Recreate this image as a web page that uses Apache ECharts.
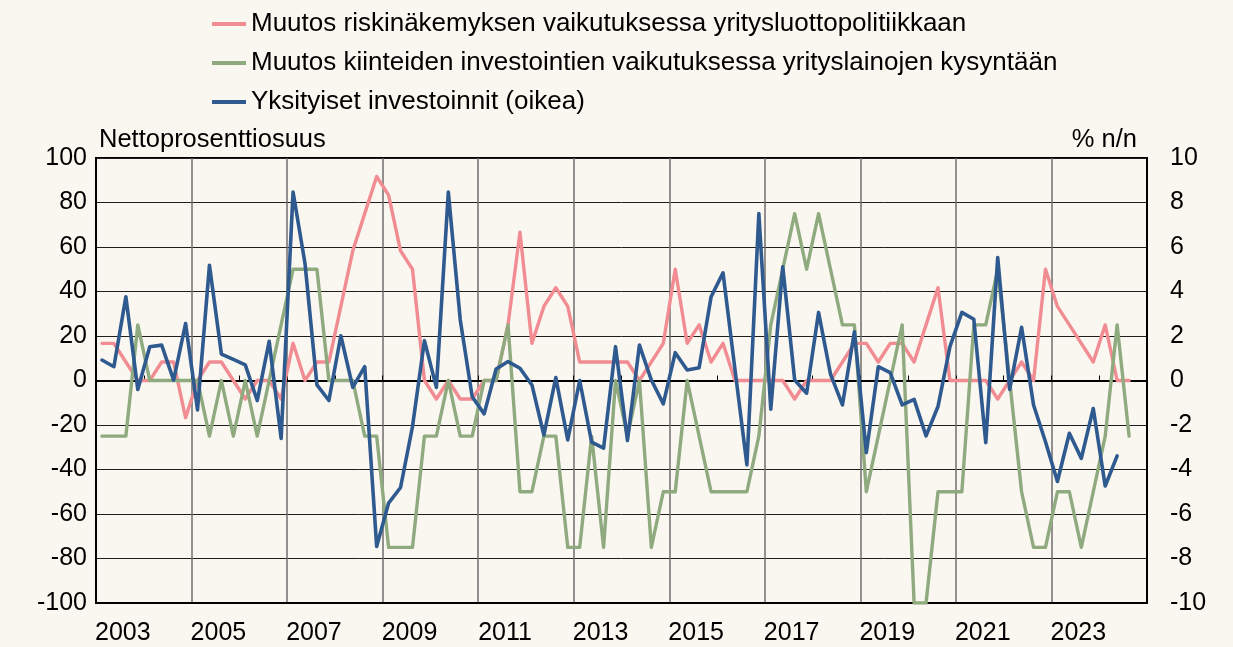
<!DOCTYPE html>
<html>
<head>
<meta charset="utf-8">
<script src="https://cdn.jsdelivr.net/npm/echarts@6/dist/echarts.min.js"></script>
<style>
  html, body { margin: 0; padding: 0; background: #faf6f0; }
  #chart { width: 1233px; height: 647px; }
</style>
</head>
<body>
<div id="chart"></div>
<script>
// vuodet ja neljännekset (2003Q1 - 2024Q4)
const years = [2003, 2004, 2005, 2006, 2007, 2008, 2009, 2010, 2011, 2012, 2013,
  2014, 2015, 2016, 2017, 2018, 2019, 2020, 2021, 2022, 2023, 2024];
const quarters = ['Q1', 'Q2', 'Q3', 'Q4'];
const categories = [];
years.forEach(y => quarters.forEach(q => categories.push(y + q)));

const seriesNames = [
  'Muutos riskinäkemyksen vaikutuksessa yritysluottopolitiikkaan',
  'Muutos kiinteiden investointien vaikutuksessa yrityslainojen kysyntään',
  'Yksityiset investoinnit (oikea)'
];

// nettoprosenttiosuus, vasen asteikko
const riskView = [
  16.7, 16.7, 8.3, 0, 0, 8.3, 8.3, -16.7, 0, 8.3, 8.3, 0, -8.3, 0, 0, -8.3,
  16.7, 0, 8.3, 8.3, 33.3, 58.3, 75, 91.7, 83.3, 58.3, 50, 0, -8.3, 0, -8.3, -8.3,
  0, 0, 25, 66.7, 16.7, 33.3, 41.7, 33.3, 8.3, 8.3, 8.3, 8.3, 8.3, 0, 8.3, 16.7,
  50, 16.7, 25, 8.3, 16.7, 0, 0, 0, 0, 0, -8.3, 0, 0, 0, 8.3, 16.7,
  16.7, 8.3, 16.7, 16.7, 8.3, 25, 41.7, 0, 0, 0, 0, -8.3, 0, 8.3, 0, 50,
  33.3, 25, 16.7, 8.3, 25, 0, 0
];
const fixedInvestment = [
  -25, -25, -25, 25, 0, 0, 0, 0, 0, -25, 0, -25, 0, -25, 0, 25,
  50, 50, 50, 0, 0, 0, -25, -25, -75, -75, -75, -25, -25, 0, -25, -25,
  0, 0, 25, -50, -50, -25, -25, -75, -75, -25, -75, 0, -25, 0, -75, -50,
  -50, 0, -25, -50, -50, -50, -50, -25, 25, 50, 75, 50, 75, 50, 25, 25,
  -50, -25, 0, 25, -100, -100, -50, -50, -50, 25, 25, 50, 0, -50, -75, -75,
  -50, -50, -75, -50, -25, 25, -25
];
// % n/n, oikea asteikko
const privateInvestment = [
  0.92, 0.62, 3.76, -0.40, 1.52, 1.59, 0.02, 2.56, -1.32, 5.18, 1.19, 0.95, 0.70, -0.90, 1.76, -2.60,
  8.47, 5.26, -0.20, -0.90, 2.01, -0.31, 0.62, -7.46, -5.51, -4.81, -2.07, 1.79, -0.31, 8.47, 2.72, -0.73,
  -1.50, 0.52, 0.85, 0.55, -0.20, -2.45, 0.13, -2.67, 0.00, -2.77, -3.04, 1.52, -2.70, 1.59, 0.02, -1.05,
  1.25, 0.47, 0.57, 3.76, 4.84, 0.50, -3.79, 7.50, -1.29, 5.11, 0.02, -0.57, 3.06, 0.29, -1.10, 2.19,
  -3.24, 0.62, 0.35, -1.10, -0.85, -2.49, -1.17, 1.52, 3.06, 2.75, -2.79, 5.53, -0.40, 2.39, -1.10, -2.75,
  -4.54, -2.37, -3.50, -1.26, -4.74, -3.39
];

const font = '"Liberation Sans", Arial, sans-serif';
const colors = ['#f08c92', '#8eaa7e', '#2f5a8f'];

const chart = echarts.init(document.getElementById('chart'));

const lineSeries = (name, data, yIndex, color, width) => ({
  name: name,
  type: 'line',
  data: data,
  xAxisIndex: 0,
  yAxisIndex: yIndex,
  symbol: 'none',
  animation: false,
  lineStyle: { color: color, width: width, cap: 'round', join: 'round' },
  itemStyle: { color: color }
});

chart.setOption({
  backgroundColor: '#faf6f0',
  textStyle: { fontFamily: font },
  color: colors,
  animation: false,
  legend: {
    orient: 'vertical',
    left: 207,
    top: 6,
    icon: 'rect',
    itemWidth: 34,
    itemHeight: 4,
    itemGap: 13,
    textStyle: { fontSize: 26, color: '#000', fontFamily: font },
    data: seriesNames
  },
  grid: {
    left: 96, right: 86, top: 158, bottom: 44,
    show: true, borderColor: '#000', borderWidth: 2, backgroundColor: 'transparent'
  },
  graphic: [
    { type: 'text', left: 99, top: 127,
      style: { text: 'Nettoprosenttiosuus', fontSize: 25.5, fill: '#000', fontFamily: font } },
    { type: 'text', right: 96, top: 127,
      style: { text: '% n/n', fontSize: 25.5, fill: '#000', fontFamily: font } }
  ],
  xAxis: [
    {
      type: 'category',
      data: categories,
      boundaryGap: true,
      position: 'bottom',
      axisLine: { onZero: false, lineStyle: { color: '#000', width: 2 } },
      axisTick: { show: false },
      axisLabel: {
        interval: i => i % 8 === 2,
        formatter: v => v.slice(0, 4),
        fontSize: 25, color: '#000', margin: 18,
        padding: [0, 6, 0, 0]
      },
      splitLine: {
        show: true,
        interval: i => i % 8 === 0,
        lineStyle: { color: '#6e6e6e', width: 1.5 }
      }
    },
    {
      type: 'category',
      data: categories,
      boundaryGap: true,
      position: 'bottom',
      axisLine: { onZero: true, onZeroAxisIndex: 0, lineStyle: { color: '#000', width: 2 } },
      axisTick: {
        show: true, inside: true, length: 5,
        interval: i => i % 4 === 0,
        lineStyle: { color: '#000', width: 1 }
      },
      axisLabel: { show: false },
      splitLine: { show: false }
    }
  ],
  yAxis: [
    {
      type: 'value', min: -100, max: 100, interval: 20, position: 'left',
      axisLine: { show: true, lineStyle: { color: '#000', width: 2 } },
      axisTick: { show: false },
      axisLabel: { fontSize: 25, color: '#000', margin: 9 },
      splitLine: { show: true, lineStyle: { color: '#1e1e1e', width: 1 } }
    },
    {
      type: 'value', min: -10, max: 10, interval: 2, position: 'right',
      axisLine: { show: true, lineStyle: { color: '#000', width: 2 } },
      axisTick: { show: false },
      axisLabel: { fontSize: 25, color: '#000', margin: 23 },
      splitLine: { show: false }
    }
  ],
  series: [
    lineSeries(seriesNames[0], riskView, 0, colors[0], 3.4),
    lineSeries(seriesNames[1], fixedInvestment, 0, colors[1], 3.4),
    lineSeries(seriesNames[2], privateInvestment, 1, colors[2], 3.6)
  ]
});
</script>
</body>
</html>
